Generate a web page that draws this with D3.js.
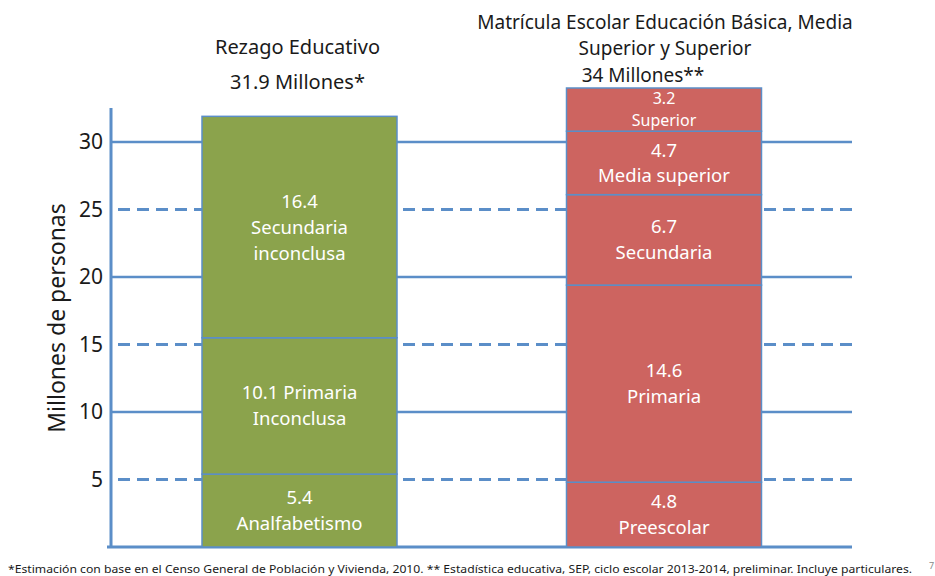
<!DOCTYPE html>
<html>
<head>
<meta charset="utf-8">
<script src="https://cdn.jsdelivr.net/npm/d3@7"></script>
<style>
  body { margin: 0; background: #fff; }
  svg { font-family: "Noto Sans", "Open Sans", sans-serif; }
  .seg text { fill: #fff; font-size: 18.5px; text-anchor: middle; }
  .title { fill: #1a1a1a; font-size: 20px; text-anchor: middle; }
  .tick-label { fill: #1a1a1a; font-size: 21px; text-anchor: end; }
</style>
</head>
<body>
<div id="chart"></div>
<script>
// columns
var columns = ["Rezago Educativo", "Matrícula Escolar"];

// stacked values, bottom to top
var rezagoValues = [5.4, 10.1, 16.4];
var rezagoLabels = [["5.4", "Analfabetismo"], ["10.1 Primaria", "Inconclusa"], ["16.4", "Secundaria", "inconclusa"]];

var matriculaValues = [4.8, 14.6, 6.7, 4.7, 3.2];
var matriculaLabels = [["4.8", "Preescolar"], ["14.6", "Primaria"], ["6.7", "Secundaria"], ["4.7", "Media superior"], ["3.2", "Superior"]];

// titles over each column
var titleLines = [["Rezago Educativo", "31.9 Millones*"],
                  ["Matrícula Escolar Educación Básica, Media", "Superior y Superior", "34 Millones**"]];

var yTicks = [5, 10, 15, 20, 25, 30];
var solidTicks = [10, 20, 30];
var dashedTicks = [5, 15, 25];

var footnote = "*Estimación con  base en el Censo General de Población y Vivienda, 2010.    ** Estadística educativa, SEP, ciclo escolar 2013-2014, preliminar. Incluye particulares.";

var width = 935, height = 576;
var margins = { left: 111, right: 852, top: 88, bottom: 547 };
var blue = "#5b8ec8";

var svg = d3.select("#chart")
            .append("svg")
            .attr("width", width)
            .attr("height", height);

var y = d3.scaleLinear().domain([0, 30]).range([margins.bottom, 142]);
var x = d3.scalePoint().domain(columns).range([299.5, 664]);
var barWidth = 195;

// grid lines
svg.append("g")
    .selectAll("line")
    .data(solidTicks)
    .join("line")
        .attr("x1", margins.left)
        .attr("x2", margins.right)
        .attr("y1", function(d) { return y(d); })
        .attr("y2", function(d) { return y(d); })
        .attr("stroke", blue)
        .attr("stroke-width", 2.6);

svg.append("g")
    .selectAll("line")
    .data(dashedTicks)
    .join("line")
        .attr("x1", margins.left + 7)
        .attr("x2", margins.right + 4)
        .attr("y1", function(d) { return y(d); })
        .attr("y2", function(d) { return y(d); })
        .attr("stroke", blue)
        .attr("stroke-width", 3)
        .attr("stroke-dasharray", "12,7");

// axis lines
svg.append("line")
    .attr("x1", margins.left).attr("x2", margins.left)
    .attr("y1", 108).attr("y2", margins.bottom + 1)
    .attr("stroke", blue).attr("stroke-width", 3);

svg.append("line")
    .attr("x1", margins.left - 4).attr("x2", margins.right)
    .attr("y1", margins.bottom).attr("y2", margins.bottom)
    .attr("stroke", blue).attr("stroke-width", 3);

// tick labels
svg.append("g")
    .selectAll("text")
    .data(yTicks)
    .join("text")
        .attr("class", "tick-label")
        .attr("x", 103)
        .attr("y", function(d) { return y(d); })
        .attr("dy", "0.35em")
        .text(function(d) { return d; });

svg.append("text")
    .attr("transform", "translate(65," + 318 + ") rotate(-90)")
    .attr("text-anchor", "middle")
    .attr("fill", "#1a1a1a")
    .style("font-size", "23px")
    .text("Millones de personas");

// stacked bars
function drawStack(col, values, labels, fill, lineGap) {
    var starts = d3.cumsum([0].concat(values));
    var data = values.map(function(v, i) { return { lo: starts[i], hi: starts[i] + v, lines: labels[i] }; });
    var g = svg.append("g").attr("class", "seg");

    var segs = g.selectAll("g")
        .data(data)
        .join("g");

    segs.append("rect")
        .attr("x", x(col) - barWidth / 2)
        .attr("width", barWidth)
        .attr("y", function(d) { return y(d.hi); })
        .attr("height", function(d) { return y(d.lo) - y(d.hi); })
        .attr("fill", fill)
        .attr("stroke", blue)
        .attr("stroke-width", 1.5);

    segs.each(function(d, i) {
        var gap = lineGap[i] || 26;
        var mid = (y(d.lo) + y(d.hi)) / 2;
        var n = d.lines.length;
        d3.select(this).selectAll("text")
            .data(d.lines)
            .join("text")
                .attr("x", x(col))
                .attr("y", function(t, j) { return mid + (j - (n - 1) / 2) * gap; })
                .attr("dy", "0.35em")
                .style("font-size", gap < 24 ? "16px" : null)
                .text(function(t) { return t; });
    });
}

drawStack(columns[0], rezagoValues, rezagoLabels, "#8ba34c", [26, 26, 26]);
drawStack(columns[1], matriculaValues, matriculaLabels, "#cd6460", [26, 26, 26, 25, 22]);

// column titles
svg.append("g")
    .selectAll("text")
    .data(titleLines[0])
    .join("text")
        .attr("class", "title")
        .attr("x", x(columns[0]) - 2)
        .attr("y", function(d, i) { return 47 + i * 35; })
        .attr("dy", "0.35em")
        .text(function(d) { return d; });

svg.append("g")
    .selectAll("text")
    .data(titleLines[1])
    .join("text")
        .attr("class", "title")
        .style("font-size", "19px")
        .attr("x", function(d, i) { return i == 2 ? 643 : 665; })
        .attr("y", function(d, i) { return [22, 48.5, 75][i]; })
        .attr("dy", "0.35em")
        .text(function(d) { return d; });

// footnote
svg.append("text")
    .attr("x", 8)
    .attr("y", 569)
    .attr("dy", "0.35em")
    .attr("fill", "#1a1a1a")
    .attr("textLength", 904)
    .attr("lengthAdjust", "spacingAndGlyphs")
    .style("font-size", "11px")
    .text(footnote);

svg.append("text")
    .attr("x", 929)
    .attr("y", 566)
    .attr("dy", "0.35em")
    .attr("fill", "#888")
    .style("font-size", "9px")
    .text("7");
</script>
</body>
</html>
